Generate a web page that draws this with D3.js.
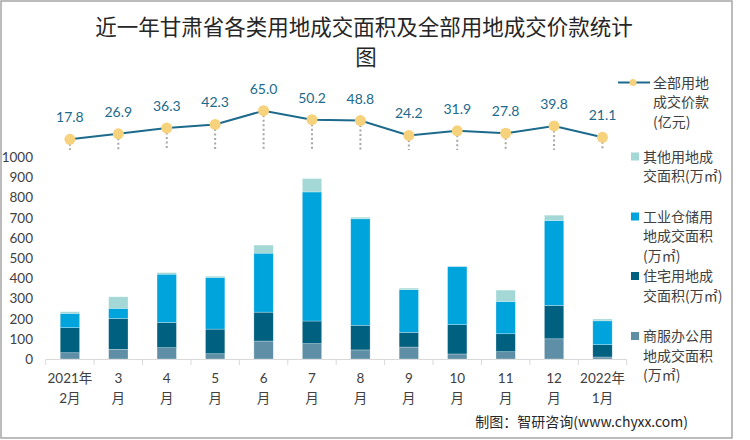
<!DOCTYPE html>
<html><head><meta charset="utf-8">
<script src="https://cdn.jsdelivr.net/npm/d3@7/dist/d3.min.js"></script>
<style>body{margin:0;background:#fff}svg{display:block}</style>
</head><body>
<svg id="c" width="750" height="440"></svg>
<script>
const months1 = ["2021年","3","4","5","6","7","8","9","10","11","12","2022年"];
const months2 = ["2月","月","月","月","月","月","月","月","月","月","月","1月"];
const commercial = [31,48,56,26,89,76,45,59,25,36,100,10];
const residential = [124,153,125,122,143,112,122,73,145,89,165,61];
const industrial = [71,50,239,256,292,639,527,211,288,160,421,118];
const other = [8,57,8,6,40,66,8,8,2,56,26,9];
const price = [17.8,26.9,36.3,42.3,65.0,50.2,48.8,24.2,31.9,27.8,39.8,21.1];
const yTicks = [0,100,200,300,400,500,600,700,800,900,1000];

const seriesKeys = ["commercial","residential","industrial","other"];
const seriesColors = {commercial:"#5e8fa6",residential:"#00607f",industrial:"#00a4dd",other:"#a3d8d6"};
const rows = months1.map((m,i)=>({i, commercial:commercial[i], residential:residential[i], industrial:industrial[i], other:other[i]}));

const svg = d3.select("#c");
const numFont = "Lato, 'Noto Sans CJK SC', sans-serif";
const cjk = "'Noto Sans CJK SC', sans-serif";

// frame
svg.append("rect").attr("x",1).attr("y",1).attr("width",731).attr("height",437)
  .attr("fill","none").attr("stroke","#a6a6a6").attr("stroke-width",1.5);

// title
const title = svg.append("text").attr("text-anchor","middle").attr("font-family",cjk)
  .attr("font-size",21.5).attr("fill","#262626");
title.append("tspan").attr("x",364).attr("y",35).text("近一年甘肃省各类用地成交面积及全部用地成交价款统计");
title.append("tspan").attr("x",366).attr("y",65).text("图");

const x = d3.scaleBand().domain(d3.range(12)).range([45.7,626.7]).paddingInner(0.6).paddingOuter(0.3);
const y = d3.scaleLinear().domain([0,1000]).range([359,157]);
const yL = d3.scaleLinear().domain([0,100]).range([150.1,89.5]);

// y axis labels
svg.append("g").selectAll("text").data(yTicks).join("text")
  .attr("x",33).attr("y",d=>y(d)+5).attr("text-anchor","end")
  .attr("font-family",numFont).attr("font-size",13.5).attr("fill","#404040").text(d=>d);

// x axis line and ticks
const step = x.step();
svg.append("line").attr("x1",45.7).attr("x2",626.7).attr("y1",359.5).attr("y2",359.5).attr("stroke","#d9d9d9");
svg.append("g").selectAll("line").data(d3.range(13)).join("line")
  .attr("x1",d=>45.7+d*step).attr("x2",d=>45.7+d*step).attr("y1",359.5).attr("y2",365)
  .attr("stroke","#d9d9d9");

// stacked bars
const stack = d3.stack().keys(seriesKeys)(rows);
svg.append("g").selectAll("g").data(stack).join("g").attr("fill",s=>seriesColors[s.key])
  .selectAll("rect").data(s=>s).join("rect")
  .attr("x",d=>x(d.data.i)).attr("width",x.bandwidth())
  .attr("y",d=>y(d[1])).attr("height",d=>Math.max(0,y(d[0])-y(d[1])))
  .attr("stroke","#ffffff").attr("stroke-opacity",0.45).attr("stroke-width",0.6);

// x labels
const xl = svg.append("g").attr("font-family",numFont).attr("font-size",13.5).attr("fill","#404040").attr("text-anchor","middle");
xl.selectAll("text.a").data(months1).join("text").attr("class","a")
  .attr("x",(d,i)=>x(i)+x.bandwidth()/2).attr("y",383).text(d=>d);
xl.selectAll("text.b").data(months2).join("text").attr("class","b")
  .attr("x",(d,i)=>x(i)+x.bandwidth()/2).attr("y",403).text(d=>d);

// price line
const cx = i=>x(i)+x.bandwidth()/2;
svg.append("g").selectAll("line").data(price).join("line")
  .attr("x1",(d,i)=>cx(i)).attr("x2",(d,i)=>cx(i)).attr("y1",d=>yL(d)).attr("y2",yL(0))
  .attr("stroke","#a6a6a6").attr("stroke-width",2).attr("stroke-dasharray","2,2.5");
svg.append("path").datum(price)
  .attr("d",d3.line().x((d,i)=>cx(i)).y(d=>yL(d)))
  .attr("fill","none").attr("stroke","#1c6a8c").attr("stroke-width",2);
svg.append("g").selectAll("circle").data(price).join("circle")
  .attr("cx",(d,i)=>cx(i)).attr("cy",d=>yL(d)).attr("r",5.5).attr("fill","#f6d27c");
svg.append("g").selectAll("text").data(price).join("text")
  .attr("x",(d,i)=>cx(i)).attr("y",d=>yL(d)-17).attr("text-anchor","middle")
  .attr("font-family",numFont).attr("font-size",14).attr("fill","#1c6a8c").text(d=>d.toFixed(1));

// legend
const lg = svg.append("g").attr("font-family",cjk).attr("font-size",14).attr("fill","#404040");
lg.append("line").attr("x1",618).attr("x2",650).attr("y1",82.5).attr("y2",82.5).attr("stroke","#1c6a8c").attr("stroke-width",2);
lg.append("circle").attr("cx",633).attr("cy",82.5).attr("r",3.5).attr("fill","#f6d27c");
const legendItems = [
  {key:null, lines:["全部用地","成交价款","(亿元)"], y:82.5},
  {key:"other", lines:["其他用地成","交面积(万㎡)"], y:156.5},
  {key:"industrial", lines:["工业仓储用","地成交面积","(万㎡)"], y:216.5},
  {key:"residential", lines:["住宅用地成","交面积(万㎡)"], y:276},
  {key:"commercial", lines:["商服办公用","地成交面积","(万㎡)"], y:336}
];
legendItems.forEach(it=>{
  const tx = it.key ? 643 : 653;
  if(it.key){
    lg.append("rect").attr("x",631).attr("y",it.y-4).attr("width",8).attr("height",8).attr("fill",seriesColors[it.key]);
  }
  it.lines.forEach((t,j)=>{
    lg.append("text").attr("x",tx).attr("y",it.y+5+j*19.5).text(t);
  });
});

// footer
svg.append("text").attr("x",688).attr("y",427).attr("text-anchor","end")
  .attr("font-family",cjk).attr("font-size",14).attr("fill","#262626").text("制图：智研咨询(www.chyxx.com)");
</script>
</body></html>
